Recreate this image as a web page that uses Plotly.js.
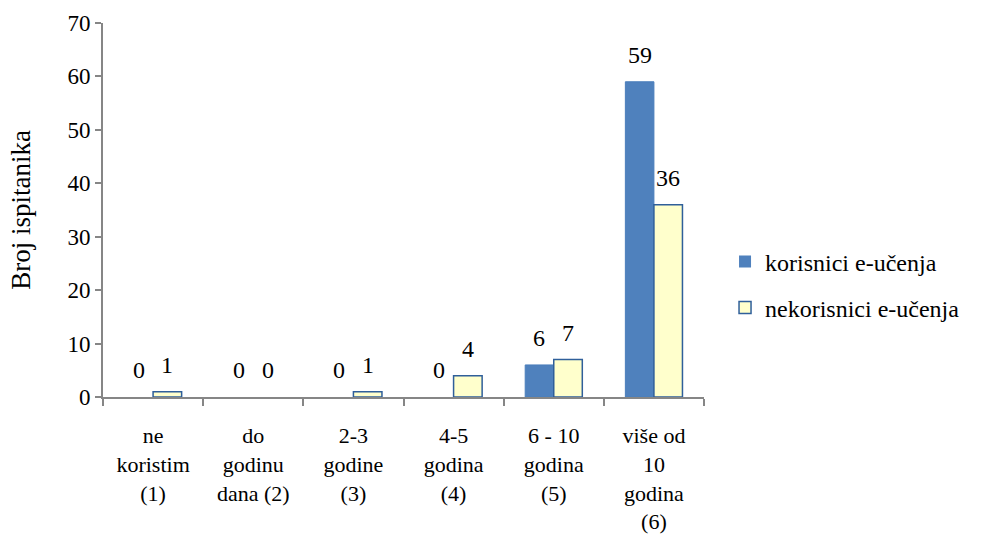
<!DOCTYPE html>
<html>
<head>
<meta charset="utf-8">
<script src="https://cdn.plot.ly/plotly-3.0.1.min.js"></script>
<style>html,body{margin:0;padding:0;background:#fff;}#chart{width:982px;height:538px;}</style>
</head>
<body>
<div id="chart"></div>
<script>
const categories = ["ne<br>koristim<br>(1)", "do<br>godinu<br>dana (2)", "2-3<br>godine<br>(3)", "4-5<br>godina<br>(4)", "6 - 10<br>godina<br>(5)", "više od<br>10<br>godina<br>(6)"];
const korisnici = [0, 0, 0, 0, 6, 59];
const nekorisnici = [1, 0, 1, 4, 7, 36];
const seriesNames = ["korisnici e-učenja", "nekorisnici e-učenja"];
const yTicks = [0, 10, 20, 30, 40, 50, 60, 70];

const FAMILY = "'Times New Roman', 'Liberation Serif', serif";
const tickFont = {family: FAMILY, size: 23, color: "#000"};
const xFont = {family: FAMILY, size: 22, color: "#000"};
const legFont = {family: FAMILY, size: 24, color: "#000"};
const labFont = {family: FAMILY, size: 24, color: "#000"};
const titleFont = {family: FAMILY, size: 27, color: "#000"};

const BARW = 0.285;
const traces = [
  {type: "bar", name: seriesNames[0], legendgroup: "a", x: categories, y: korisnici,
   marker: {color: "#4F81BD", line: {color: "#4A7EBB", width: korisnici.map(v => v > 0 ? 1 : 0)}},
   hoverinfo: "none"},
  {type: "bar", name: seriesNames[1], legendgroup: "b", x: categories, y: nekorisnici,
   marker: {color: "#FFFFCC", line: {color: "#2F5F9A", width: nekorisnici.map(v => v > 0 ? 1.5 : 0)}},
   hoverinfo: "none"}
];

const plotW = 601;
const catW = plotW / categories.length;
const shift = catW * BARW / 2;
const annotations = [];
categories.forEach((c, i) => {
  annotations.push({x: c, y: korisnici[i], xref: "x", yref: "y", text: String(korisnici[i]),
    showarrow: false, xshift: -shift, yshift: 12, yanchor: "bottom", font: labFont});
  annotations.push({x: c, y: nekorisnici[i], xref: "x", yref: "y", text: String(nekorisnici[i]),
    showarrow: false, xshift: shift, yshift: 12, yanchor: "bottom", font: labFont});
});

const layout = {
  width: 982, height: 538,
  margin: {l: 103, r: 278, t: 23, b: 141},
  paper_bgcolor: "#fff", plot_bgcolor: "#fff",
  font: tickFont,
  barmode: "group", bargap: 1 - 2 * BARW, bargroupgap: 0,
  showlegend: true,
  annotations: annotations,
  legend: {x: 1.035, y: 0.30, xanchor: "left", yanchor: "middle", font: legFont,
           itemwidth: 30, tracegroupgap: 12, traceorder: "grouped", bgcolor: "rgba(0,0,0,0)"},
  xaxis: {type: "category", showline: true, linecolor: "#868686", linewidth: 2,
          ticks: "outside", tickson: "boundaries", ticklen: 7, tickcolor: "#868686", tickwidth: 2,
          tickfont: xFont, ticklabelstandoff: 18,
          showgrid: false, zeroline: false, automargin: false, fixedrange: true},
  yaxis: {range: [0, 70], tickvals: yTicks, showline: true, linecolor: "#868686", linewidth: 2,
          ticks: "outside", ticklen: 6, tickcolor: "#868686", tickwidth: 2, tickfont: tickFont,
          showgrid: false, zeroline: false, automargin: false, fixedrange: true,
          title: {text: "Broj ispitanika", font: titleFont, standoff: 29}}
};

Plotly.newPlot("chart", traces, layout, {displayModeBar: false, staticPlot: true});
</script>
</body>
</html>
